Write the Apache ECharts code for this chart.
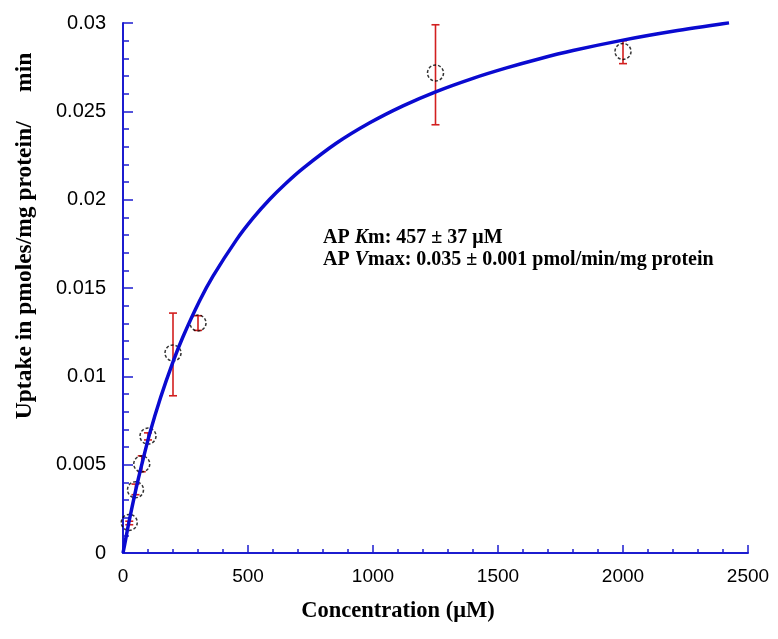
<!DOCTYPE html>
<html>
<head>
<meta charset="utf-8">
<script src="https://cdn.jsdelivr.net/npm/echarts@6/dist/echarts.min.js"></script>
<style>html,body{margin:0;padding:0;background:#fff;}#c{width:778px;height:639px;}</style>
</head>
<body>
<div id="c"></div>
<script>
// Measured data
var concentrations = [25, 50, 75, 100, 200, 300, 1250, 2000];
var uptake = [0.00173, 0.00358, 0.00504, 0.00662, 0.01132, 0.01302, 0.02717, 0.02839];
var errLow = [0.0016, 0.0033, 0.0046, 0.0064, 0.0089, 0.0126, 0.02424, 0.0277];
var errHigh = [0.0018, 0.0039, 0.0055, 0.0068, 0.01358, 0.01343, 0.0299, 0.0290];
// Fitted curve
var curveX = [0, 7, 25, 50, 75, 107, 150, 200, 240, 307, 360, 453, 520, 587, 650, 720, 853, 987, 1120, 1253, 1400, 1534, 1667, 1800, 2000, 2200, 2424];
var curveY = [0, 0.0005, 0.00184, 0.0035, 0.0050, 0.00677, 0.00879, 0.01082, 0.01224, 0.01429, 0.01567, 0.01771, 0.01895, 0.02002, 0.02090, 0.02177, 0.02319, 0.02435, 0.02531, 0.02612, 0.02687, 0.02746, 0.02798, 0.02844, 0.02903, 0.02953, 0.03001];
var xTicks = [0, 500, 1000, 1500, 2000, 2500];
var yTicks = [0, 0.005, 0.01, 0.015, 0.02, 0.025, 0.03];

var axisBlue = '#1c1cd0';
var chart = echarts.init(document.getElementById('c'), null, {renderer: 'canvas'});

var pts = concentrations.map(function (x, i) { return [x, uptake[i]]; });
var errs = concentrations.map(function (x, i) { return [x, errLow[i], errHigh[i]]; });
var curve = curveX.map(function (x, i) { return [x, curveY[i]]; });

chart.setOption({
  backgroundColor: '#ffffff',
  animation: false,
  grid: {left: 123, right: 30, top: 23, bottom: 86, containLabel: false, outerBoundsMode: 'none'},
  xAxis: {
    type: 'value', min: xTicks[0], max: xTicks[xTicks.length - 1], interval: 500,
    axisLine: {show: true, lineStyle: {color: axisBlue, width: 2}},
    axisTick: {show: true, inside: true, length: 8, lineStyle: {color: axisBlue, width: 1.5}},
    minorTick: {show: true, splitNumber: 5, length: 4, lineStyle: {color: axisBlue, width: 1.5}},
    splitLine: {show: false},
    axisLabel: {margin: 14, fontFamily: 'Liberation Sans', fontSize: 19, color: '#000',
      formatter: function (v) { return String(v); }}
  },
  yAxis: {
    type: 'value', min: yTicks[0], max: yTicks[yTicks.length - 1], interval: 0.005,
    axisLine: {show: true, lineStyle: {color: axisBlue, width: 2}},
    axisTick: {show: true, inside: true, length: 10, lineStyle: {color: axisBlue, width: 1.5}},
    minorTick: {show: true, splitNumber: 5, length: 6, lineStyle: {color: axisBlue, width: 1.5}},
    splitLine: {show: false},
    axisLabel: {margin: 17, fontFamily: 'Liberation Sans', fontSize: 20, color: '#000',
      formatter: function (v) { return String(+v.toFixed(3)); }}
  },
  graphic: [{
    type: 'text', left: 323, top: 228, z: 100,
    style: {
      text: '{b|AP }{i|K}{b|m: 457 ± 37 μM}\n{b|AP }{i|V}{b|max: 0.035 ± 0.001 pmol/min/mg protein}',
      rich: {
        b: {fontFamily: 'Liberation Serif', fontWeight: 'bold', fontSize: 20, fill: '#000', lineHeight: 22},
        i: {fontFamily: 'Liberation Serif', fontWeight: 'bold', fontStyle: 'italic', fontSize: 20, fill: '#000', lineHeight: 22}
      }
    }
  }, {
    type: 'text', x: 398, y: 611, z: 100,
    style: {text: 'Concentration (μM)', fontFamily: 'Liberation Serif', fontWeight: 'bold', fontSize: 22.5,
      fill: '#000', align: 'center', verticalAlign: 'middle'}
  }, {
    type: 'text', x: 25, y: 236, rotation: Math.PI / 2, z: 100,
    style: {text: 'Uptake in pmoles/mg protein/     min', fontFamily: 'Liberation Serif', fontWeight: 'bold', fontSize: 23.5,
      fill: '#000', align: 'center', verticalAlign: 'middle'}
  }],
  series: [
    {
      type: 'custom', name: 'err', z: 2,
      renderItem: function (params, api) {
        var x = api.value(0);
        var lo = api.coord([x, api.value(1)]);
        var hi = api.coord([x, api.value(2)]);
        var w = 4;
        var st = {stroke: '#d21f1f', lineWidth: 1.6};
        return {type: 'group', children: [
          {type: 'line', shape: {x1: lo[0], y1: lo[1], x2: hi[0], y2: hi[1]}, style: st},
          {type: 'line', shape: {x1: lo[0] - w, y1: lo[1], x2: lo[0] + w, y2: lo[1]}, style: st},
          {type: 'line', shape: {x1: hi[0] - w, y1: hi[1], x2: hi[0] + w, y2: hi[1]}, style: st}
        ]};
      },
      encode: {x: 0, y: [1, 2]},
      data: errs
    },
    {
      type: 'scatter', z: 3, symbol: 'circle', symbolSize: 16,
      itemStyle: {color: 'rgba(0,0,0,0)', borderColor: '#000', borderWidth: 1.5, borderType: [3, 2]},
      data: pts
    },
    {
      type: 'line', z: 4, smooth: 0.3, showSymbol: false,
      lineStyle: {color: '#0a0ad0', width: 3.5},
      data: curve
    }
  ]
});
</script>
</body>
</html>
